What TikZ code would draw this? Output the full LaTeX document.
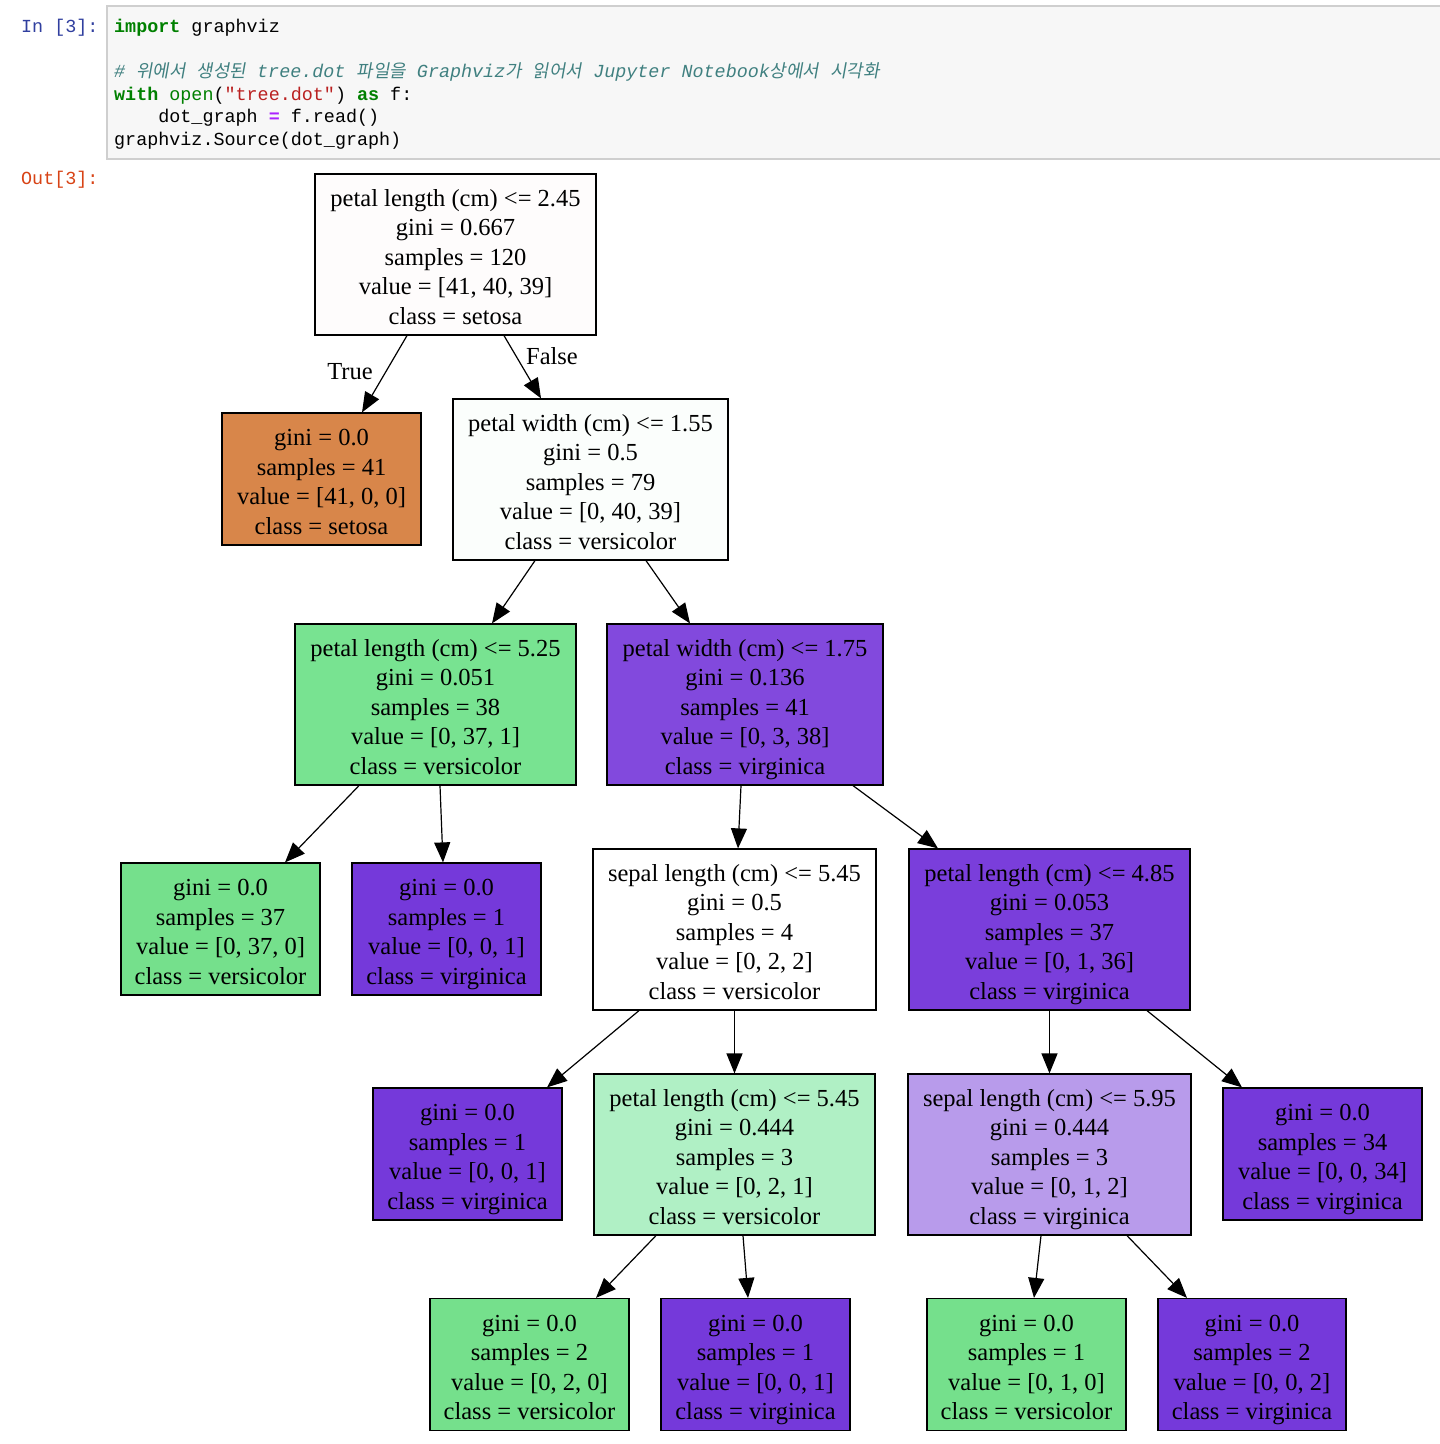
\documentclass[tikz,border=0pt]{standalone}
\usepackage{fontspec}
\setmainfont{Liberation Serif}
\setmonofont{Liberation Mono}
\newfontfamily\krfont{Noto Sans CJK KR}[FakeSlant=0.18]
\usetikzlibrary{arrows.meta,calc}
\definecolor{cellbg}{HTML}{F7F7F7}
\definecolor{cellbd}{HTML}{CFCFCF}
\definecolor{inblue}{HTML}{303F9F}
\definecolor{outred}{HTML}{D84315}
\definecolor{kwgreen}{HTML}{008000}
\definecolor{strred}{HTML}{BA2121}
\definecolor{oppurple}{HTML}{AA22FF}
\definecolor{cmteal}{HTML}{408080}
\definecolor{cRoot}{HTML}{FEFCFC}
\definecolor{cOrange}{HTML}{D8864A}
\definecolor{cNearWhite}{HTML}{FBFEFC}
\definecolor{cGreenA}{HTML}{78E391}
\definecolor{cGreen}{HTML}{75E08C}
\definecolor{cPurpleA}{HTML}{8249DD}
\definecolor{cPurple}{HTML}{7539DA}
\definecolor{cPurpleB}{HTML}{7A3EDB}
\definecolor{cLightGreen}{HTML}{B0F0C5}
\definecolor{cLightPurple}{HTML}{B89BEB}
\newcommand\kr[1]{{\fontsize{17.9}{22.6}\selectfont\krfont #1}}
\newcommand\kw[1]{\textcolor{kwgreen}{\bfseries #1}}
\newcommand\ftop{\rule{0pt}{27pt}}
\newcommand\fbot{\rule[-5.5pt]{0pt}{5.5pt}}
\tikzset{
  tnode/.style={draw=black, line width=1.2pt, rectangle, inner sep=0pt, align=center,
    font=\fontsize{24.5}{29.5}\selectfont},
  inner/.style={tnode, minimum height=161pt},
  leafn/.style={tnode, minimum height=132pt},
  edge/.style={line width=1.2pt, -{Triangle[length=20pt,width=16pt]}},
  codeline/.style={anchor=base west, inner sep=0pt, font=\fontsize{18.4}{22.6}\selectfont\ttfamily},
  elabel/.style={inner sep=0pt, font=\fontsize{24.5}{29.5}\selectfont}
}
\begin{document}
\begin{tikzpicture}[x=1pt,y=-1pt]
\useasboundingbox (0,0) rectangle (1440,1444);
\fill[white] (0,0) rectangle (1440,1444);
% code cell
\path[fill=cellbg] (107,6) rectangle (1440,159);
\draw[cellbd, line width=1.2pt] (1440,6) -- (107,6) -- (107,159) -- (1440,159);
\node[codeline, text=inblue] (inp) at (21,32) {In [3]:};
\node[codeline, text=outred] (outp) at (21,184) {Out[3]:};
\node[codeline] (l1) at (114,32) {\kw{import} graphviz};
\node[codeline, text=cmteal] (l2) at (114,77) {\itshape \# \kr{위에서} \kr{생성된} tree.dot \kr{파일을} Graphviz\kr{가} \kr{읽어서} Jupyter Notebook\kr{상에서} \kr{시각화}};
\node[codeline] (l3) at (114,100) {\kw{with} \textcolor{kwgreen}{open}(\textcolor{strred}{"tree.dot"}) \kw{as} f:};
\node[codeline] (l4) at (114,122) {\ \ \ \ dot\_graph \textcolor{oppurple}{\bfseries =} f.read()};
\node[codeline] (l5) at (114,145) {graphviz.Source(dot\_graph)};
% tree nodes
\node[inner, fill=cRoot, minimum width=281pt] (n0) at (455.5,254.5)
  {\ftop petal length (cm) <= 2.45\\gini = 0.667\\samples = 120\\value = [41, 40, 39]\\class = setosa\fbot};
\node[leafn, fill=cOrange, minimum width=199pt] (n1) at (321.5,479)
  {\ftop gini = 0.0\\samples = 41\\value = [41, 0, 0]\\class = setosa\fbot};
\node[inner, fill=cNearWhite, minimum width=275pt] (n2) at (590.5,479.5)
  {\ftop petal width (cm) <= 1.55\\gini = 0.5\\samples = 79\\value = [0, 40, 39]\\class = versicolor\fbot};
\node[inner, fill=cGreenA, minimum width=281pt] (n3) at (435.5,704.5)
  {\ftop petal length (cm) <= 5.25\\gini = 0.051\\samples = 38\\value = [0, 37, 1]\\class = versicolor\fbot};
\node[inner, fill=cPurpleA, minimum width=276pt] (n4) at (745,704.5)
  {\ftop petal width (cm) <= 1.75\\gini = 0.136\\samples = 41\\value = [0, 3, 38]\\class = virginica\fbot};
\node[leafn, fill=cGreen, minimum width=199pt] (n5) at (220.5,929)
  {\ftop gini = 0.0\\samples = 37\\value = [0, 37, 0]\\class = versicolor\fbot};
\node[leafn, fill=cPurple, minimum width=189pt] (n6) at (446.5,929)
  {\ftop gini = 0.0\\samples = 1\\value = [0, 0, 1]\\class = virginica\fbot};
\node[inner, fill=white, minimum width=283pt] (n7) at (734.5,929.5)
  {\ftop sepal length (cm) <= 5.45\\gini = 0.5\\samples = 4\\value = [0, 2, 2]\\class = versicolor\fbot};
\node[inner, fill=cPurpleB, minimum width=281pt] (n8) at (1049.5,929.5)
  {\ftop petal length (cm) <= 4.85\\gini = 0.053\\samples = 37\\value = [0, 1, 36]\\class = virginica\fbot};
\node[leafn, fill=cPurple, minimum width=189pt] (n9) at (467.5,1154)
  {\ftop gini = 0.0\\samples = 1\\value = [0, 0, 1]\\class = virginica\fbot};
\node[inner, fill=cLightGreen, minimum width=281pt] (n10) at (734.5,1154.5)
  {\ftop petal length (cm) <= 5.45\\gini = 0.444\\samples = 3\\value = [0, 2, 1]\\class = versicolor\fbot};
\node[inner, fill=cLightPurple, minimum width=283pt] (n11) at (1049.5,1154.5)
  {\ftop sepal length (cm) <= 5.95\\gini = 0.444\\samples = 3\\value = [0, 1, 2]\\class = virginica\fbot};
\node[leafn, fill=cPurple, minimum width=199pt] (n12) at (1322.5,1154)
  {\ftop gini = 0.0\\samples = 34\\value = [0, 0, 34]\\class = virginica\fbot};
\node[leafn, fill=cGreen, minimum width=199pt] (n13) at (529.5,1364.5)
  {\ftop gini = 0.0\\samples = 2\\value = [0, 2, 0]\\class = versicolor\fbot};
\node[leafn, fill=cPurple, minimum width=189pt] (n14) at (755.5,1364.5)
  {\ftop gini = 0.0\\samples = 1\\value = [0, 0, 1]\\class = virginica\fbot};
\node[leafn, fill=cGreen, minimum width=199pt] (n15) at (1026.5,1364.5)
  {\ftop gini = 0.0\\samples = 1\\value = [0, 1, 0]\\class = versicolor\fbot};
\node[leafn, fill=cPurple, minimum width=188pt] (n16) at (1252,1364.5)
  {\ftop gini = 0.0\\samples = 2\\value = [0, 0, 2]\\class = virginica\fbot};
% edges
\draw[edge] ([xshift=-48.5pt]n0.south) -- ([xshift=40.5pt]n1.north);
\draw[edge] ([xshift=48.5pt]n0.south) -- ([xshift=-49.5pt]n2.north);
\draw[edge] ([xshift=-55.5pt]n2.south) -- ([xshift=56.5pt]n3.north);
\draw[edge] ([xshift=55.5pt]n2.south) -- ([xshift=-55pt]n4.north);
\draw[edge] ([xshift=-76.5pt]n3.south) -- ([xshift=64.5pt]n5.north);
\draw[edge] ([xshift=4.5pt]n3.south) -- ([xshift=-3.5pt]n6.north);
\draw[edge] ([xshift=-4pt]n4.south) -- ([xshift=3.5pt]n7.north);
\draw[edge] ([xshift=108pt]n4.south) -- ([xshift=-111.5pt]n8.north);
\draw[edge] ([xshift=-95.5pt]n7.south) -- ([xshift=79.5pt]n9.north);
\draw[edge] (n7.south) -- (n10.north);
\draw[edge] (n8.south) -- (n11.north);
\draw[edge] ([xshift=97.5pt]n8.south) -- ([xshift=-80.5pt]n12.north);
\draw[edge] ([xshift=-78.5pt]n10.south) -- ([xshift=66.5pt]n13.north);
\draw[edge] ([xshift=8.5pt]n10.south) -- ([xshift=-7.5pt]n14.north);
\draw[edge] ([xshift=-8.5pt]n11.south) -- ([xshift=7.5pt]n15.north);
\draw[edge] ([xshift=77.5pt]n11.south) -- ([xshift=-65pt]n16.north);
\node[elabel] (tlab) at (350,372) {True};
\node[elabel] (flab) at (552,356) {False};
\end{tikzpicture}
\end{document}
